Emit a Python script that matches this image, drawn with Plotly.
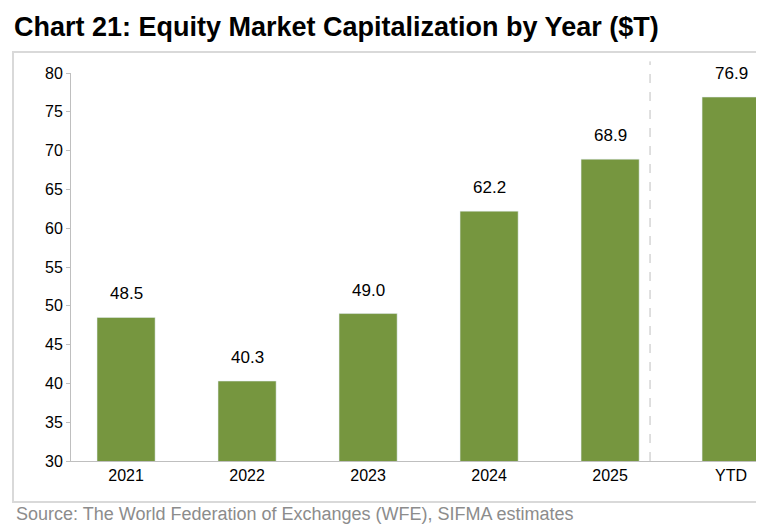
import plotly.graph_objects as go

years = ["2021", "2022", "2023", "2024", "2025", "YTD"]
cap_trillions = [48.5, 40.3, 49.0, 62.2, 68.9, 76.9]
labels = [f"{v:.1f}" for v in cap_trillions]

W, H = 764, 524
L, R, T, B = 63, 7, 65, 71
pw, ph = W - L - R, H - T - B


def px(x):
    return (x - L) / pw


def py(y):
    return 1 - (y - T) / ph


xs = list(range(len(years)))
fig = go.Figure(go.Bar(x=xs, y=cap_trillions, width=0.48,
                       marker_color="#76963F"))

# value labels, sitting a bit above each bar
for x, v, lab in zip(xs, cap_trillions, labels):
    fig.add_annotation(x=x, y=v, text=lab, showarrow=False, yanchor="bottom",
                       yshift=12, font=dict(size=17, color="#000000"))

fig.update_layout(
    width=W, height=H, margin=dict(l=L, r=R, t=T, b=B),
    plot_bgcolor="white", paper_bgcolor="white",
    font=dict(family="Liberation Sans, Arial", color="#000000"),
    showlegend=False,
)
fig.update_xaxes(range=[-0.455, 5.28], tickvals=xs, ticktext=years,
                 tickfont=dict(size=16), showgrid=False,
                 showline=True, linecolor="#BFBFBF", ticks="")
fig.update_yaxes(range=[30, 80], dtick=5, tickfont=dict(size=16),
                 showgrid=False, showline=True, linecolor="#BFBFBF",
                 ticks="outside", ticklen=4, tickcolor="#BFBFBF")

# separator before YTD
fig.add_shape(type="line", xref="x", yref="paper", x0=4.33, x1=4.33,
              y0=0, y1=1.03, line=dict(color="#BFBFBF", width=1, dash="dash"))
# frame around chart
fig.add_shape(type="rect", xref="paper", yref="paper",
              x0=px(5), x1=px(757), y0=py(44), y1=py(494),
              line=dict(color="#D9D9D9", width=2), layer="below")

fig.add_annotation(text="<b>Chart 21: Equity Market Capitalization by Year ($T)</b>",
                   xref="paper", yref="paper", x=px(4), y=py(19),
                   xanchor="left", yanchor="middle", showarrow=False,
                   font=dict(size=27))
fig.add_annotation(text="<b>C</b>", xref="paper", yref="paper",
                   x=px(750), y=py(19), xanchor="left", yanchor="middle",
                   showarrow=False, font=dict(size=27))
fig.add_annotation(text="Source: The World Federation of Exchanges (WFE), SIFMA estimates",
                   xref="paper", yref="paper", x=px(6), y=py(506),
                   xanchor="left", yanchor="middle", showarrow=False,
                   font=dict(size=18, color="#8C8C8C"))

fig.write_html("out.html")
